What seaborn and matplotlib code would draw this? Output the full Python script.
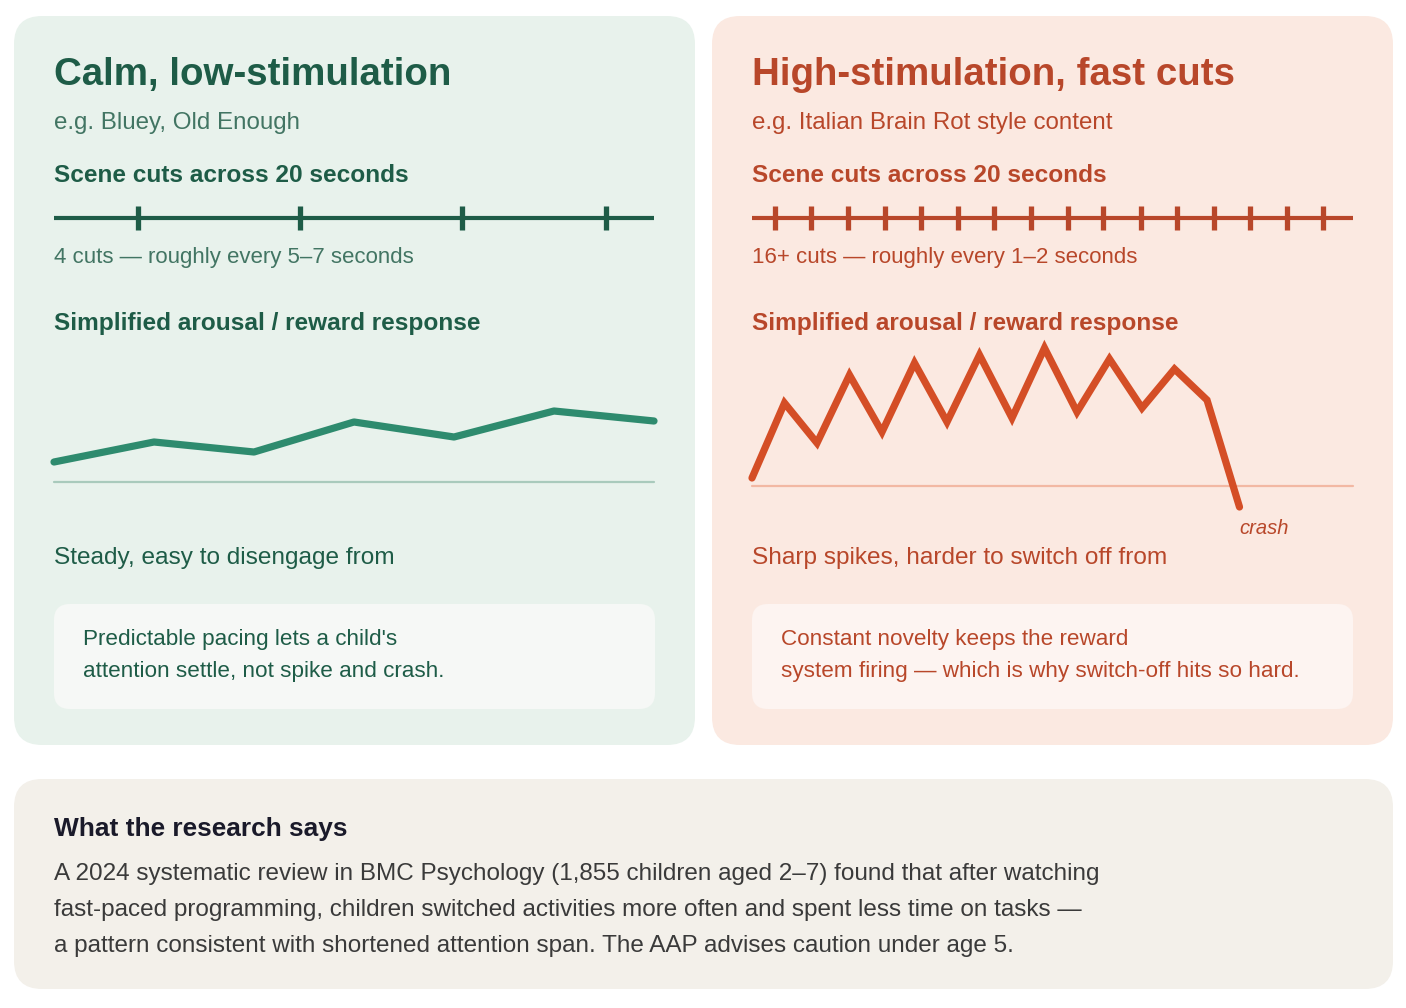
import matplotlib
matplotlib.use("Agg")
import matplotlib.pyplot as plt
from matplotlib.patches import FancyBboxPatch
import seaborn as sns
import pandas as pd

# ---------------- data ----------------
calm_cuts_s = [2.8, 8.2, 13.6, 18.4]
fast_cuts_s = [0.76, 1.98, 3.2, 4.42, 5.64, 6.87, 8.06, 9.28, 10.5, 11.69,
               12.94, 14.13, 15.36, 16.58, 17.8, 19.0]
calm_arousal = [2.0, 4.0, 3.0, 6.0, 4.5, 7.1, 6.1]
fast_arousal = [0.8, 8.3, 4.3, 11.1, 5.4, 12.3, 6.4, 13.1, 6.8, 13.8, 7.4,
                12.7, 7.8, 11.7, 8.6, -2.1]

calm_title = "Calm, low-stimulation"
calm_sub = "e.g. Bluey, Old Enough"
calm_caption = "4 cuts \u2014 roughly every 5\u20137 seconds"
calm_desc = "Steady, easy to disengage from"
calm_note = ["Predictable pacing lets a child's",
             "attention settle, not spike and crash."]
fast_title = "High-stimulation, fast cuts"
fast_sub = "e.g. Italian Brain Rot style content"
fast_caption = "16+ cuts \u2014 roughly every 1\u20132 seconds"
fast_desc = "Sharp spikes, harder to switch off from"
fast_note = ["Constant novelty keeps the reward",
             "system firing \u2014 which is why switch-off hits so hard."]
cuts_header = "Scene cuts across 20 seconds"
arousal_header = "Simplified arousal / reward response"
crash_label = "crash"
research_title = "What the research says"
research_lines = [
    "A 2024 systematic review in BMC Psychology (1,855 children aged 2\u20137) found that after watching",
    "fast-paced programming, children switched activities more often and spent less time on tasks \u2014",
    "a pattern consistent with shortened attention span. The AAP advises caution under age 5.",
]

# ---------------- style ----------------
sns.set_theme(style="white")
plt.rcParams['font.family'] = ['Liberation Sans', 'DejaVu Sans']

W, H = 1406, 1008
fig = plt.figure(figsize=(W / 100, H / 100), dpi=100)
fig.patch.set_facecolor("white")

bg = fig.add_axes([0, 0, 1, 1])
bg.set_xlim(0, W)
bg.set_ylim(H, 0)
bg.axis("off")

G_DARK = "#1E5C47"
G_MID = "#427563"
G_LINE = "#2E8B6E"
G_BASE = "#A9CABC"
R_DARK = "#B8472A"
R_LINE = "#D44E26"
R_BASE = "#F2B8A3"


def panel(x0, y0, x1, y1, color, r):
    p = FancyBboxPatch((x0 + r, y0 + r), (x1 - x0) - 2 * r, (y1 - y0) - 2 * r,
                       boxstyle=f"round,pad={r}", fc=color, ec="none", zorder=0)
    bg.add_patch(p)


panel(14, 16, 695, 745, "#E8F2EC", 28)
panel(712, 16, 1393, 745, "#FBE9E1", 28)
panel(14, 779, 1393, 989, "#F3F0EA", 28)
panel(54, 604, 655, 709, "#F6F8F6", 16)
panel(752, 604, 1353, 709, "#FDF4F1", 16)


def txt(x, y, s, size, color, weight="normal", style="normal"):
    bg.text(x, y, s, fontsize=size, color=color, fontweight=weight,
            fontstyle=style, va="baseline", ha="left")


def px_axes(x0, y0, x1, y1):
    ax = fig.add_axes([x0 / W, 1 - y1 / H, (x1 - x0) / W, (y1 - y0) / H])
    ax.patch.set_alpha(0)
    ax.axis("off")
    return ax


for (x0, title, sub, cap, desc, note, dark, mid, line_c, base_c, cuts,
     arousal, x1) in [
        (54, calm_title, calm_sub, calm_caption, calm_desc, calm_note,
         G_DARK, G_MID, G_LINE, G_BASE, calm_cuts_s, calm_arousal, 654),
        (752, fast_title, fast_sub, fast_caption, fast_desc, fast_note,
         R_DARK, R_DARK, R_LINE, R_BASE, fast_cuts_s, fast_arousal, 1353)]:
    txt(x0, 85, title, 27.7, dark, weight="bold")
    txt(x0, 129, sub, 17.4, mid)
    txt(x0, 182, cuts_header, 17.6, dark, weight="bold")
    txt(x0, 263, cap, 16.05, mid)
    txt(x0, 330, arousal_header, 17.6, dark, weight="bold")
    txt(x0, 564, desc, 17.55, mid if dark == R_DARK else G_DARK)
    txt(x0 + 29, 645, note[0], 16.2, dark)
    txt(x0 + 29, 677, note[1], 16.2, dark)

    # timeline of scene cuts
    tax = px_axes(x0, 200, x1, 236)
    tax.set_xlim(0, 20)
    tax.set_ylim(-18, 18)
    track = pd.DataFrame({"t": [0, 20], "y": [0, 0]})
    sns.lineplot(data=track, x="t", y="y", ax=tax, color=dark, lw=3.0,
                 solid_capstyle="butt")
    tax.vlines(cuts, -12, 12, color=dark, lw=3.8)
    tax.axis("off")

# arousal lines
gax = px_axes(54, 330, 654, 550)
gax.set_xlim(0, 6)
gax.set_ylim(-(550 - 482) / 10, (482 - 330) / 10)
gax.axhline(0, color=G_BASE, lw=1.6, zorder=1)
sns.lineplot(x=list(range(len(calm_arousal))), y=calm_arousal, ax=gax,
             color=G_LINE, lw=5.2, solid_capstyle="round",
             solid_joinstyle="round", zorder=3)
for l in gax.lines:
    l.set_clip_on(False)
gax.axis("off")

rax = px_axes(752, 330, 1353, 550)
rax.set_xlim(0, (1353 - 752) / 32.5)
rax.set_ylim(-(550 - 486) / 10, (486 - 330) / 10)
rax.axhline(0, color=R_BASE, lw=1.6, zorder=1)
sns.lineplot(x=list(range(len(fast_arousal))), y=fast_arousal, ax=rax,
             color=R_LINE, lw=5.2, solid_capstyle="round",
             solid_joinstyle="miter", zorder=3)
for l in rax.lines:
    l.set_clip_on(False)
rax.text(len(fast_arousal) - 1, -(534 - 486) / 10, crash_label, fontsize=14.5,
         color=R_DARK, fontstyle="italic", va="baseline", ha="left")
rax.axis("off")

# research box
txt(54, 836, research_title, 18.9, "#1A1A2A", weight="bold")
for i, line in enumerate(research_lines):
    txt(54, 880 + 36 * i, line, 17.5, "#3A3A3A")

fig.savefig("out.png", dpi=100, facecolor="white")
